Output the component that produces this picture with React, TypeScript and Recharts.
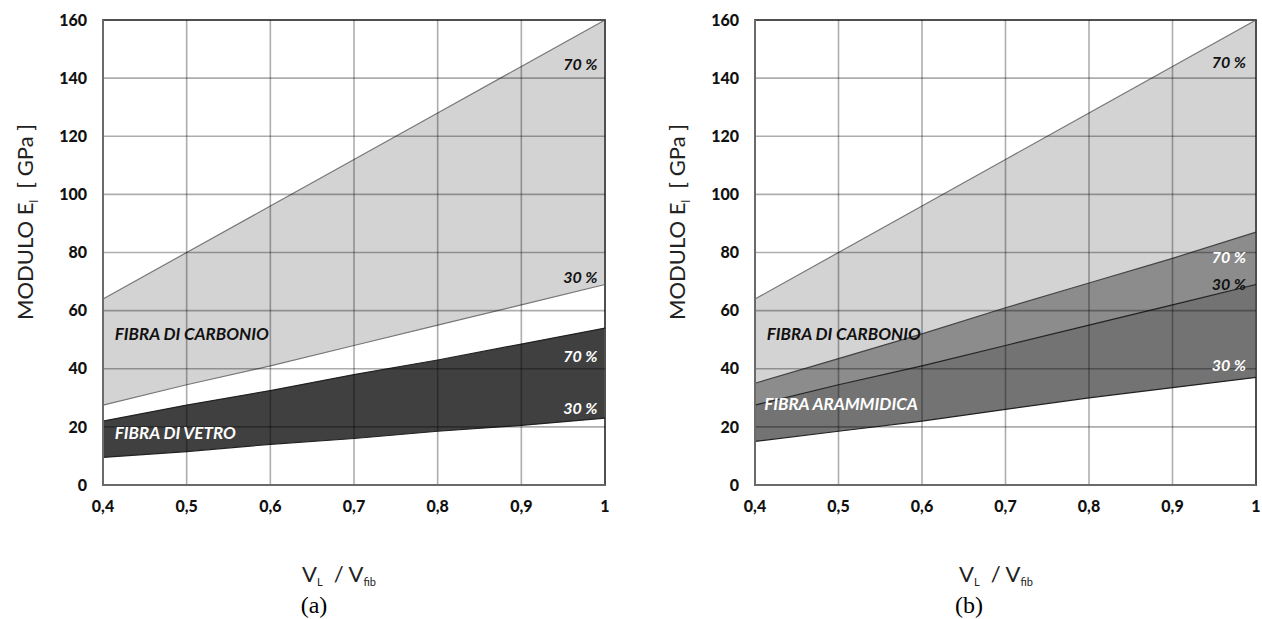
import React from "react";
import {
  Area,
  CartesianGrid,
  ComposedChart,
  Line,
  ReferenceArea,
  ReferenceDot,
  XAxis,
  YAxis,
} from "recharts";

// fibre volume ratio V_L / V_fib
const vRatio = [0.4, 0.5, 0.6, 0.7, 0.8, 0.9, 1];

// modulus E_l [GPa], 70 % and 30 % fibre efficiency
const carbon70 = [64, 80, 96, 112, 128, 144, 160];
const carbon30 = [27.5, 34.5, 41, 48, 55, 62, 69];
const glass70 = [22, 27.5, 32.5, 38, 43, 48.5, 54];
const glass30 = [9.5, 11.5, 14, 16, 18.5, 20.5, 23];
const aramid70 = [35, 43.5, 52, 61, 69.5, 78, 87];
const aramid30 = [15, 18.5, 22, 26, 30, 33.5, 37];

const xTicks = [0.4, 0.5, 0.6, 0.7, 0.8, 0.9, 1];
const yTicks = [0, 20, 40, 60, 80, 100, 120, 140, 160];

type Note = { v: number; y: number; text: string; white?: boolean; start?: boolean };

const notesA: Note[] = [
  { v: 0.991, y: 145, text: "70 %" },
  { v: 0.991, y: 71.6, text: "30 %" },
  { v: 0.991, y: 44.7, text: "70 %", white: true },
  { v: 0.991, y: 26.5, text: "30 %", white: true },
  { v: 0.414, y: 52, text: "FIBRA DI CARBONIO", start: true },
  { v: 0.414, y: 17.9, text: "FIBRA DI VETRO", white: true, start: true },
];

const notesB: Note[] = [
  { v: 0.988, y: 145.6, text: "70 %" },
  { v: 0.988, y: 78.5, text: "70 %", white: true },
  { v: 0.988, y: 69.5, text: "30 %" },
  { v: 0.988, y: 41.3, text: "30 %", white: true },
  { v: 0.414, y: 52.3, text: "FIBRA DI CARBONIO", start: true },
  { v: 0.411, y: 28.2, text: "FIBRA ARAMMIDICA", white: true, start: true },
];

const rowsA = vRatio.map((v, i) => ({
  v,
  carbon: [carbon30[i], carbon70[i]],
  glass: [glass30[i], glass70[i]],
  c70: carbon70[i],
  c30: carbon30[i],
  g70: glass70[i],
  g30: glass30[i],
}));

const rowsB = vRatio.map((v, i) => ({
  v,
  light: [aramid70[i], carbon70[i]],
  mid: [carbon30[i], aramid70[i]],
  dark: [aramid30[i], carbon30[i]],
  c70: carbon70[i],
  c30: carbon30[i],
  a70: aramid70[i],
  a30: aramid30[i],
}));

const FONT = "Lato, 'Open Sans', sans-serif";
const fmtX = (v: number) => (v === 1 ? "1" : v.toFixed(1).replace(".", ","));
const tickStyle = { fontSize: 16, fontWeight: 900, fill: "#111", fontFamily: FONT };

function noteShape(n: Note) {
  return (p: any) => (
    <text
      x={p.cx}
      y={p.cy}
      textAnchor={n.start ? "start" : "end"}
      dominantBaseline="central"
      fontFamily={FONT}
      fontWeight={700}
      fontStyle="italic"
      fontSize={n.start ? 17 : 16}
      fill={n.white ? "#ffffff" : "#111111"}
    >
      {n.text}
    </text>
  );
}

function notesEl(notes: Note[]) {
  return notes.map((n, i) => (
    <ReferenceDot key={i} x={n.v} y={n.y} r={0} shape={noteShape(n)} />
  ));
}

const gridProps = {
  stroke: "rgba(0,0,0,0.32)",
  strokeWidth: 1.6,
  horizontalValues: yTicks,
  verticalValues: xTicks,
};

function xAxisEl() {
  return (
    <XAxis
      dataKey="v"
      type="number"
      domain={[0.4, 1]}
      ticks={xTicks}
      tickFormatter={fmtX}
      tick={tickStyle}
      tickLine={false}
      tickMargin={10}
      height={30}
      axisLine={{ stroke: "#6a6a6a", strokeWidth: 2 }}
    />
  );
}

function yAxisEl(width: number) {
  return (
    <YAxis
      type="number"
      domain={[0, 160]}
      ticks={yTicks}
      tick={tickStyle}
      tickLine={false}
      tickMargin={10}
      width={width}
      axisLine={{ stroke: "#6a6a6a", strokeWidth: 2 }}
    />
  );
}

const sub = (top: number): React.CSSProperties => ({
  fontSize: 11,
  position: "relative",
  top,
});

function YTitle({ left }: { left: number }) {
  return (
    <div
      style={{
        position: "absolute",
        left: left - 150,
        top: 222 - 12,
        width: 300,
        height: 24,
        lineHeight: "24px",
        textAlign: "center",
        transform: "rotate(-90deg)",
        fontFamily: FONT,
        fontSize: 22,
        color: "#222",
        whiteSpace: "pre",
      }}
    >
      MODULO E<span style={sub(5)}>l</span>
      {"  [ GPa ]"}
    </div>
  );
}

function XTitle({ center }: { center: number }) {
  return (
    <div
      style={{
        position: "absolute",
        left: center - 100,
        top: 563,
        width: 200,
        height: 22,
        lineHeight: "22px",
        textAlign: "center",
        fontFamily: FONT,
        fontSize: 22,
        color: "#222",
        whiteSpace: "pre",
      }}
    >
      V<span style={sub(4)}>L</span>
      {"  / V"}
      <span style={sub(4)}>fib</span>
    </div>
  );
}

function Caption({ center, text }: { center: number; text: string }) {
  return (
    <div
      style={{
        position: "absolute",
        left: center - 30,
        top: 593,
        width: 60,
        height: 25,
        lineHeight: "25px",
        textAlign: "center",
        fontFamily: "'Liberation Serif', 'Times New Roman', serif",
        fontSize: 24,
        color: "#000",
      }}
    >
      {text}
    </div>
  );
}

export default function App() {
  return (
    <div
      style={{
        position: "fixed",
        left: 0,
        top: 0,
        width: 1262,
        height: 619,
        background: "#fff",
        overflow: "hidden",
      }}
    >
      <div style={{ position: "absolute", left: 0, top: 0 }}>
        <ComposedChart
          width={620}
          height={619}
          data={rowsA}
          margin={{ top: 20, right: 15, bottom: 104, left: 0 }}
        >
          {xAxisEl()}
          {yAxisEl(103)}
          <Area type="linear" dataKey="carbon" fill="#d3d3d3" fillOpacity={1} stroke="none" isAnimationActive={false} />
          <Area type="linear" dataKey="glass" fill="#404040" fillOpacity={1} stroke="none" isAnimationActive={false} />
          <CartesianGrid {...gridProps} zIndex={450} />
          <Line type="linear" dataKey="c70" stroke="#777" strokeWidth={1.2} dot={false} isAnimationActive={false} />
          <Line type="linear" dataKey="c30" stroke="#777" strokeWidth={1.2} dot={false} isAnimationActive={false} />
          <Line type="linear" dataKey="g70" stroke="#222" strokeWidth={1.2} dot={false} isAnimationActive={false} />
          <Line type="linear" dataKey="g30" stroke="#222" strokeWidth={1.2} dot={false} isAnimationActive={false} />
          <ReferenceArea x1={0.4} x2={1} y1={0} y2={160} fill="none" stroke="#6a6a6a" strokeWidth={2} />
          {notesEl(notesA)}
        </ComposedChart>
      </div>
      <div style={{ position: "absolute", left: 650, top: 0 }}>
        <ComposedChart
          width={612}
          height={619}
          data={rowsB}
          margin={{ top: 20, right: 6, bottom: 104, left: 0 }}
        >
          {xAxisEl()}
          {yAxisEl(105)}
          <Area type="linear" dataKey="light" fill="#d3d3d3" fillOpacity={1} stroke="none" isAnimationActive={false} />
          <Area type="linear" dataKey="mid" fill="#8c8c8c" fillOpacity={1} stroke="none" isAnimationActive={false} />
          <Area type="linear" dataKey="dark" fill="#737373" fillOpacity={1} stroke="none" isAnimationActive={false} />
          <CartesianGrid {...gridProps} zIndex={450} />
          <Line type="linear" dataKey="c70" stroke="#777" strokeWidth={1.2} dot={false} isAnimationActive={false} />
          <Line type="linear" dataKey="c30" stroke="#222" strokeWidth={1.2} dot={false} isAnimationActive={false} />
          <Line type="linear" dataKey="a70" stroke="#444" strokeWidth={1.2} dot={false} isAnimationActive={false} />
          <Line type="linear" dataKey="a30" stroke="#222" strokeWidth={1.2} dot={false} isAnimationActive={false} />
          <ReferenceArea x1={0.4} x2={1} y1={0} y2={160} fill="none" stroke="#6a6a6a" strokeWidth={2} />
          {notesEl(notesB)}
        </ComposedChart>
      </div>
      <YTitle left={25} />
      <YTitle left={677} />
      <XTitle center={339} />
      <XTitle center={996} />
      <Caption center={314} text="(a)" />
      <Caption center={969} text="(b)" />
    </div>
  );
}
